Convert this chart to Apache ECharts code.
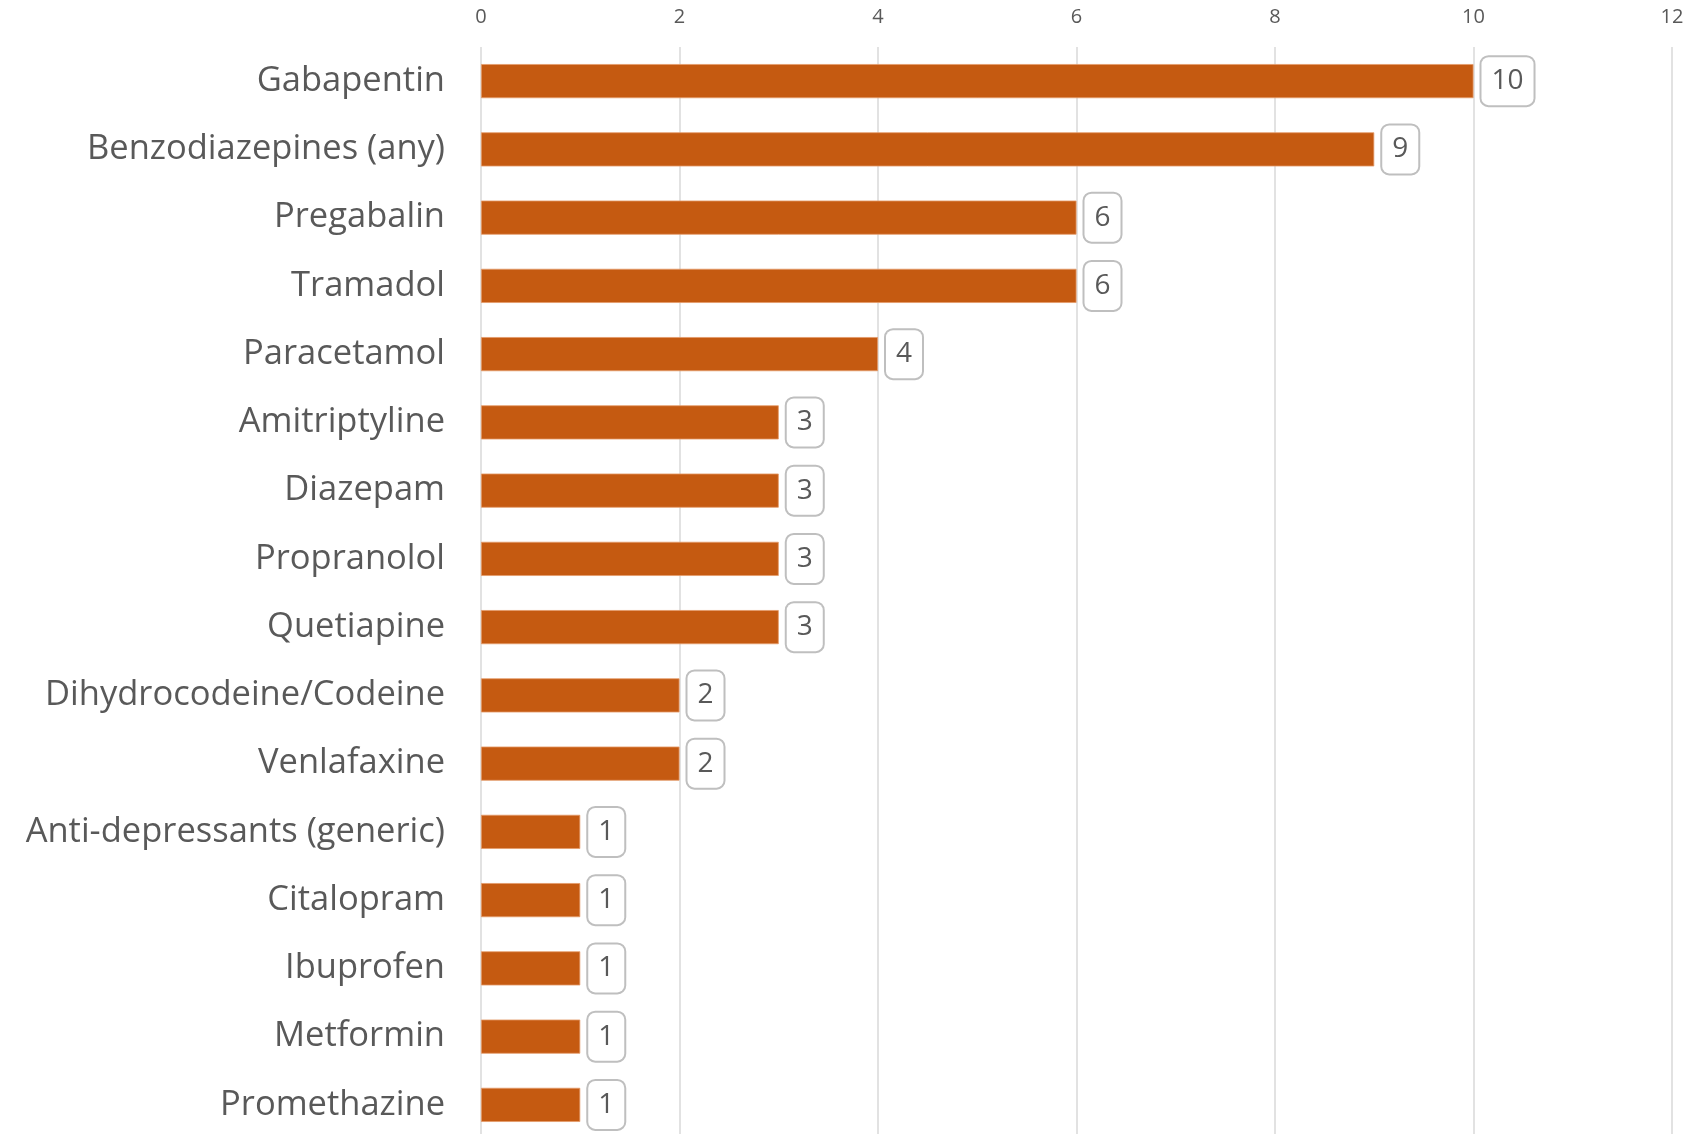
<!DOCTYPE html>
<html>
<head>
<meta charset="utf-8">
<script src="https://cdn.jsdelivr.net/npm/echarts@6/dist/echarts.min.js"></script>
<style>html,body{margin:0;padding:0;background:#fff;}#c{width:1696px;height:1134px;}</style>
</head>
<body>
<div id="c"></div>
<script>
const categories = ["Gabapentin","Benzodiazepines (any)","Pregabalin","Tramadol","Paracetamol","Amitriptyline","Diazepam","Propranolol","Quetiapine","Dihydrocodeine/Codeine","Venlafaxine","Anti-depressants (generic)","Citalopram","Ibuprofen","Metformin","Promethazine"];
const values = [10,9,6,6,4,3,3,3,3,2,2,1,1,1,1,1];
const axisTicks = [0,2,4,6,8,10,12];

const chart = echarts.init(document.getElementById('c'));
chart.setOption({
  animation: false,
  grid: {left: 481, width: 1191, top: 47, height: 1092, containLabel: false, outerBoundsMode: 'none'},
  xAxis: {
    type: 'value', position: 'top', min: axisTicks[0], max: axisTicks[axisTicks.length-1], interval: 2,
    axisLine: {show: false}, axisTick: {show: false},
    axisLabel: {color: '#595959', fontSize: 20, fontFamily: 'Open Sans', margin: 20},
    splitLine: {show: true, lineStyle: {color: '#d9d9d9', width: 1.5}}
  },
  yAxis: {
    type: 'category', data: categories, inverse: true,
    axisLine: {show: false}, axisTick: {show: false},
    axisLabel: {color: '#595959', fontSize: 34.5, fontFamily: 'Open Sans', margin: 36}
  },
  series: [{
    type: 'bar', data: values, barWidth: '50%',
    itemStyle: {color: '#C55A11', borderColor: '#E59A6A', borderWidth: 0.8},
    label: {
      show: true, position: 'right', distance: 8,
      color: '#595959', fontSize: 28, fontFamily: 'Open Sans',
      backgroundColor: '#fff', borderColor: '#bfbfbf', borderWidth: 2, borderRadius: 7,
      padding: [10, 10, 10, 10]
    }
  }]
});
</script>
</body>
</html>
